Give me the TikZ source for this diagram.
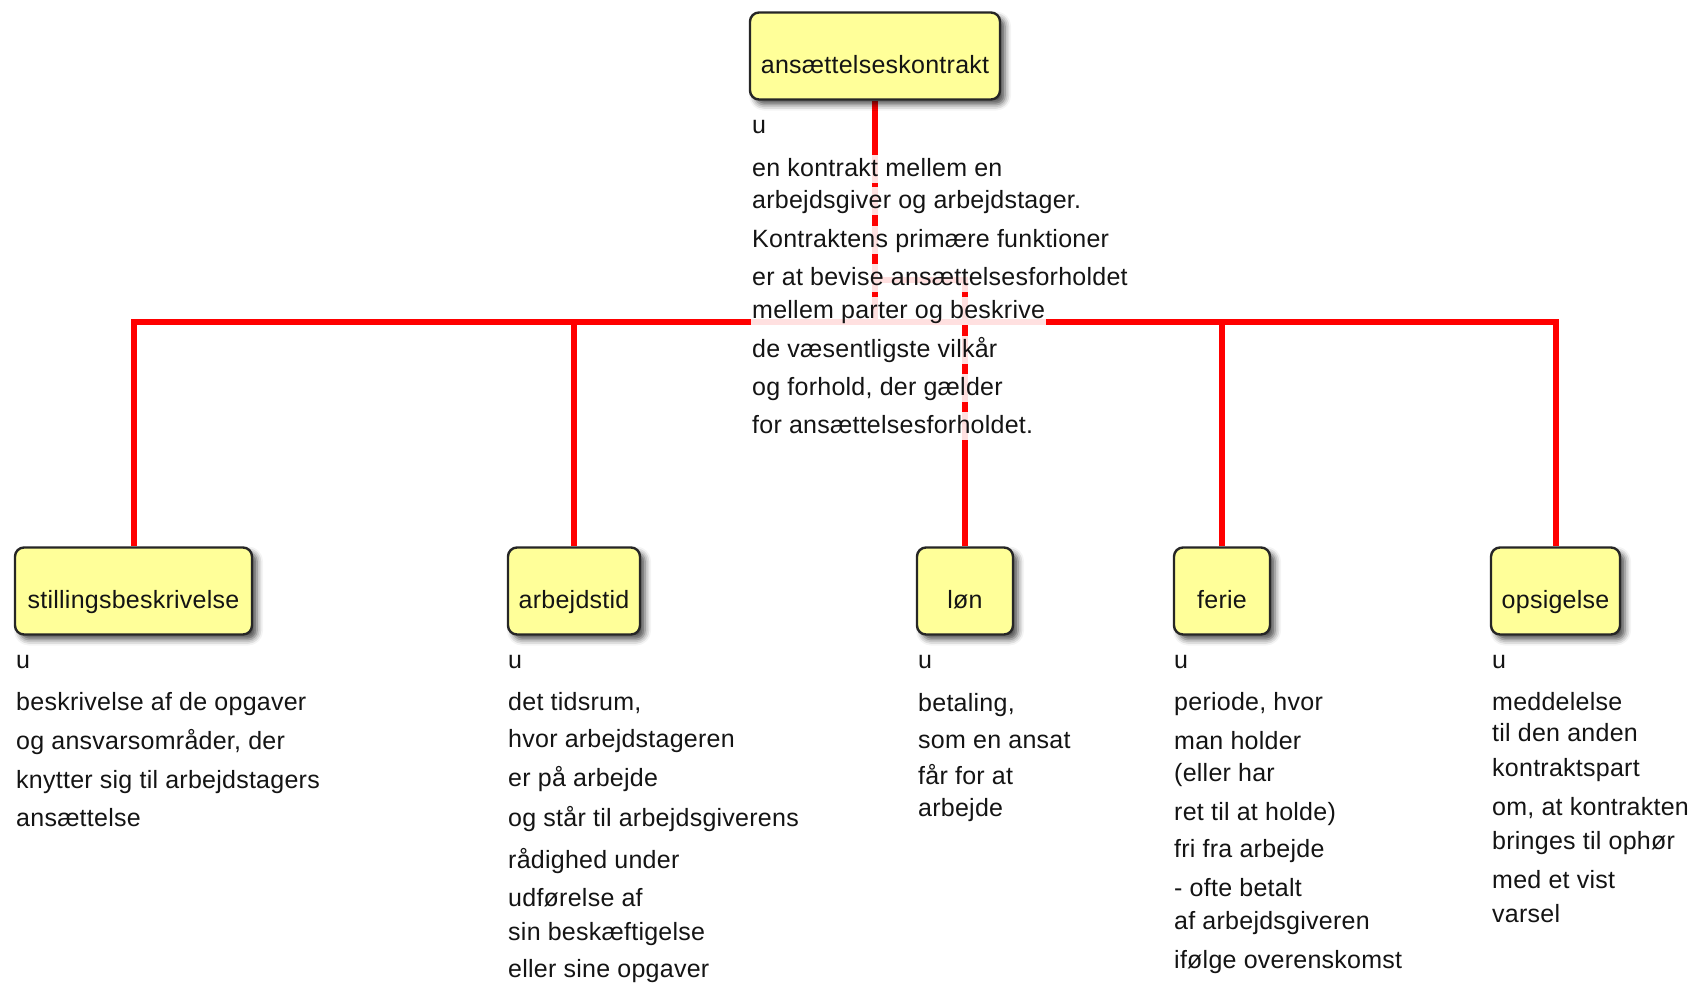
\documentclass[tikz,border=0pt]{standalone}
\usepackage{fontspec}
\setmainfont{Liberation Sans}[LetterSpace=1]
\usetikzlibrary{shadows.blur}
\definecolor{boxyellow}{HTML}{FFFF99}
\definecolor{boxedge}{HTML}{262626}
\definecolor{inktext}{HTML}{141414}
\pgfdeclarelayer{lines}
\pgfsetlayers{lines,main}
\begin{document}
\begin{tikzpicture}[x=1pt,y=-1pt,
  conn/.style={draw=red, line width=6pt},
  topic/.style={draw=boxedge, line width=2.4pt, fill=boxyellow,
    rounded corners=9pt, inner xsep=0pt, inner ysep=0pt,
    text height=61pt, text depth=26pt, minimum height=87pt,
    font=\fontsize{25}{29}\selectfont, text=inktext,
    blur shadow={shadow xshift=5pt, shadow yshift=-5pt,
      shadow blur radius=6pt, shadow opacity=70}},
  ln/.style={anchor=base west, inner xsep=1pt, inner ysep=0pt,
    text height=21pt, text depth=7pt, fill=white, fill opacity=0.88,
    text opacity=1, text=inktext, font=\fontsize{25}{29}\selectfont}]
\useasboundingbox (0,0) rectangle (1693,982);

% concept boxes
\node[topic, minimum width=250pt] (top)   at (875,56)     {ansættelseskontrakt};
\node[topic, minimum width=237pt] (still) at (133.5,591)  {stillingsbeskrivelse};
\node[topic, minimum width=132pt] (arb)   at (574,591)    {arbejdstid};
\node[topic, minimum width=96pt]  (lon)   at (965,591)    {løn};
\node[topic, minimum width=96pt]  (ferie) at (1222,591)   {ferie};
\node[topic, minimum width=129pt] (ops)   at (1555.5,591) {opsigelse};

% branch points of the tree
\coordinate (jlon) at (875,280);
\coordinate (jall) at (875,322);

% connectors, kept behind the boxes
\begin{pgfonlayer}{lines}
\draw[conn] (top.south) |- (jall) -| (still.north);
\draw[conn] (jall) -| (arb.north);
\draw[conn] (jall) -| (ferie.north);
\draw[conn] (jall) -| (ops.north);
\draw[conn] (top.south) |- (jlon) -| (lon.north);
\end{pgfonlayer}

% descriptions
\foreach \yy/\tx [count=\i] in {133/u, 176/{en kontrakt mellem en},
    208/{arbejdsgiver og arbejdstager.}, 247/{Kontraktens primære funktioner},
    285/{er at bevise ansættelsesforholdet}, 318/{mellem parter og beskrive},
    357/{de væsentligste vilkår}, 395/{og forhold, der gælder},
    433/{for ansættelsesforholdet.}}
  \node[ln, name=dtop-\i] at (751,\yy) {\tx};

\foreach \yy/\tx [count=\i] in {668/u, 710/{beskrivelse af de opgaver},
    749/{og ansvarsområder, der}, 788/{knytter sig til arbejdstagers},
    826/{ansættelse}}
  \node[ln, name=dstill-\i] at (15,\yy) {\tx};

\foreach \yy/\tx [count=\i] in {668/u, 710/{det tidsrum,},
    747/{hvor arbejdstageren}, 786/{er på arbejde},
    826/{og står til arbejdsgiverens}, 868/{rådighed under},
    906/{udførelse af}, 940/{sin beskæftigelse}, 977/{eller sine opgaver}}
  \node[ln, name=darb-\i] at (507,\yy) {\tx};

\foreach \yy/\tx [count=\i] in {668/u, 711/{betaling,}, 748/{som en ansat},
    784/{får for at}, 816/{arbejde}}
  \node[ln, name=dlon-\i] at (917,\yy) {\tx};

\foreach \yy/\tx [count=\i] in {668/u, 710/{periode, hvor}, 749/{man holder},
    781/{(eller har}, 820/{ret til at holde)}, 857/{fri fra arbejde},
    896/{- ofte betalt}, 929/{af arbejdsgiveren}, 968/{ifølge overenskomst}}
  \node[ln, name=dferie-\i] at (1173,\yy) {\tx};

\foreach \yy/\tx [count=\i] in {668/u, 710/{meddelelse}, 741/{til den anden},
    776/{kontraktspart}, 815/{om, at kontrakten}, 849/{bringes til ophør},
    888/{med et vist}, 922/{varsel}}
  \node[ln, name=dops-\i] at (1491,\yy) {\tx};
\end{tikzpicture}
\end{document}
